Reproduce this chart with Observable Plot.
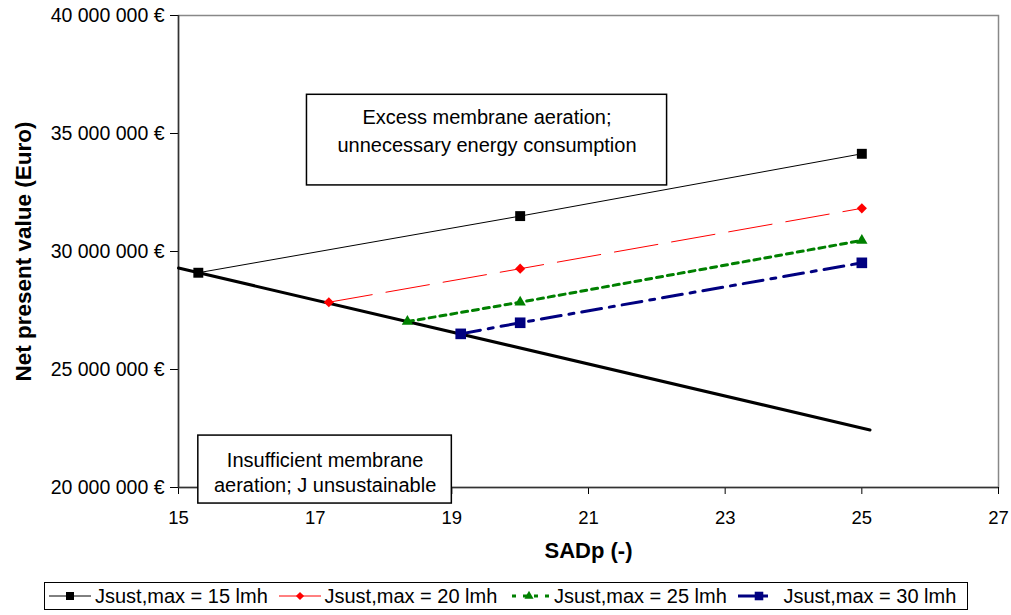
<!DOCTYPE html>
<html>
<head>
<meta charset="utf-8">
<script src="https://cdn.jsdelivr.net/npm/d3@7"></script>
<script src="https://cdn.jsdelivr.net/npm/@observablehq/plot@0.6"></script>
<style>
  html, body { margin: 0; padding: 0; background: #fff; }
  body { width: 1011px; height: 615px; position: relative; font-family: "Liberation Sans", Arial, sans-serif; }
  #legend { position: absolute; left: 44px; top: 582px; width: 922px; height: 26px; border: 1px solid #000;
            display: flex; align-items: center; font-size: 20px; color: #000; box-sizing: content-box; }
  .item { display: flex; align-items: center; width: 231px; }
  .item:first-child { margin-left: 4px; }
  .item svg { display: block; flex: none; }
  .item span { margin-left: 4px; white-space: nowrap; }
</style>
</head>
<body>
<div id="chart"></div>
<div id="legend"></div>
<script>
// ---- data ----
const xTicks = [15, 17, 19, 21, 23, 25, 27];
const yTicks = [20e6, 25e6, 30e6, 35e6, 40e6];

const seriesNames = ["Jsust,max = 15 lmh", "Jsust,max = 20 lmh", "Jsust,max = 25 lmh", "Jsust,max = 30 lmh"];
const sadp15 = [15.29, 20, 25];
const npv15  = [29.10e6, 31.50e6, 34.14e6];
const sadp20 = [17.2, 20, 25];
const npv20  = [27.85e6, 29.27e6, 31.83e6];
const sadp25 = [18.35, 20, 25];
const npv25  = [27.03e6, 27.85e6, 30.47e6];
const sadp30 = [19.13, 20, 25];
const npv30  = [26.51e6, 26.98e6, 29.52e6];

const boundarySadp = [15, 25.12];
const boundaryNpv  = [29.30e6, 22.44e6];

const annotationTexts = ["Excess membrane aeration;\nunnecessary energy consumption",
                         "Insufficient membrane\naeration; J unsustainable"];
const annotationX1 = [16.88, 15.29];
const annotationX2 = [22.15, 19.0];
const annotationYTop = [36.64e6, 22.20e6];
const annotationYBottom = [32.80e6, 19.32e6];

const xLabel = "SADp (-)";
const yLabel = "Net present value (Euro)";

// ---- styles ----
const styles = [
  {stroke: "#000000", strokeWidth: 1, dash: null, symbol: "square", r: 5.6, fill: "#000000"},
  {stroke: "#FF0000", strokeWidth: 1, dash: "44,14", symbol: "diamond2", r: 4.6, fill: "#FF0000"},
  {stroke: "#008000", strokeWidth: 3, dash: "6,5", symbol: "triangle2", r: 5.4, fill: "#008000"},
  {stroke: "#000080", strokeWidth: 3, dash: "20,8,5,8", symbol: "square", r: 6, fill: "#000080"}
];
const xs = [sadp15, sadp20, sadp25, sadp30];
const ys = [npv15, npv20, npv25, npv30];

const series = seriesNames.map((name, i) => xs[i].map((x, j) => ({name, x, y: ys[i][j]})));
const boundary = boundarySadp.map((x, i) => ({x, y: boundaryNpv[i]}));
const annotations = annotationTexts.map((text, i) => ({
  text, x1: annotationX1[i], x2: annotationX2[i], y1: annotationYTop[i], y2: annotationYBottom[i]
}));

const fmt = v => d3.format(",")(v).replace(/,/g, " ") + " €";
const FONT = "'Liberation Sans', Arial, sans-serif";

const marks = [
  Plot.frame({stroke: "#888", strokeWidth: 1.5}),
  Plot.axisX({ticks: xTicks, tickSize: 7, label: null, tickFormat: () => ""}),
  Plot.axisY({ticks: yTicks, tickSize: 8, label: null, tickFormat: () => ""}),
  Plot.text(xTicks, {x: d => d, text: d => String(d), frameAnchor: "bottom", lineAnchor: "top", dy: 23, fontSize: 18.5, fill: "black"}),
  Plot.text(yTicks, {y: d => d, text: fmt, frameAnchor: "left", textAnchor: "end", lineAnchor: "middle", dx: -14, fontSize: 19.5, fill: "black"}),
  Plot.ruleX([15], {stroke: "#333", strokeWidth: 1.5}),
  Plot.ruleY([20e6], {stroke: "#333", strokeWidth: 1.5}),
  Plot.line(boundary, {x: "x", y: "y", stroke: "#000", strokeWidth: 3})
];
series.forEach((data, i) => {
  const s = styles[i];
  marks.push(Plot.line(data, {x: "x", y: "y", stroke: s.stroke, strokeWidth: s.strokeWidth,
    strokeDasharray: s.dash || undefined}));
});
series.forEach((data, i) => {
  const s = styles[i];
  marks.push(Plot.dot(data, {x: "x", y: "y", symbol: () => s.symbol, r: s.r, fill: s.fill, stroke: "none"}));
});
marks.push(Plot.rect(annotations, {x1: "x1", x2: "x2", y1: "y1", y2: "y2", fill: "white", stroke: "black", strokeWidth: 1.5}));
const textOpts = [{dy: 10, lineHeight: 1.37}, {dy: 13, lineHeight: 1.28}];
annotations.forEach((a, i) => {
  marks.push(Plot.text([a], {x: d => (d.x1 + d.x2) / 2, y: "y1", text: "text", lineAnchor: "top",
    dy: textOpts[i].dy, lineHeight: textOpts[i].lineHeight, fontSize: 20, fill: "black"}));
});
marks.push(Plot.text([yLabel], {text: d => d, frameAnchor: "left", textAnchor: "middle", lineAnchor: "middle", rotate: -90, dx: -155, fontWeight: "bold", fontSize: 22.5, fill: "black"}));
marks.push(Plot.text([xLabel], {text: d => d, frameAnchor: "bottom", textAnchor: "middle", lineAnchor: "middle", dy: 63, fontWeight: "bold", fontSize: 22, fill: "black"}));

const chart = Plot.plot({
  width: 1011,
  height: 575,
  marginLeft: 178,
  marginRight: 13,
  marginTop: 15,
  marginBottom: 88,
  x: {domain: [15, 27]},
  y: {domain: [20e6, 40e6]},
  style: {fontFamily: FONT, fontSize: "19px", color: "black", background: "white", overflow: "visible"},
  marks
});
document.getElementById("chart").appendChild(chart);

// ---- legend ----
const legend = document.getElementById("legend");
const ns = "http://www.w3.org/2000/svg";
function symbolPath(sym, r) {
  const map = {square: d3.symbolSquare, diamond2: d3.symbolDiamond2, triangle2: d3.symbolTriangle2};
  return d3.symbol(map[sym], Math.PI * r * r * 0.65)();
}
seriesNames.forEach((name, i) => {
  const s = styles[i];
  const item = document.createElement("div");
  item.className = "item";
  const svg = document.createElementNS(ns, "svg");
  svg.setAttribute("width", 42); svg.setAttribute("height", 20);
  const line = document.createElementNS(ns, "line");
  line.setAttribute("x1", 0); line.setAttribute("x2", 42); line.setAttribute("y1", 10); line.setAttribute("y2", 10);
  line.setAttribute("stroke", s.stroke); line.setAttribute("stroke-width", s.strokeWidth);
  if (i === 2) { line.setAttribute("stroke-dasharray", "4,7"); line.setAttribute("stroke-dashoffset", "-4"); }
  if (i === 3) { line.setAttribute("stroke-dasharray", "17,8,5,20"); }
  svg.appendChild(line);
  const p = document.createElementNS(ns, "path");
  p.setAttribute("d", symbolPath(s.symbol, s.r));
  p.setAttribute("transform", "translate(21,10)");
  p.setAttribute("fill", s.fill);
  svg.appendChild(p);
  item.appendChild(svg);
  const span = document.createElement("span");
  span.textContent = name;
  item.appendChild(span);
  legend.appendChild(item);
});
</script>
</body>
</html>
